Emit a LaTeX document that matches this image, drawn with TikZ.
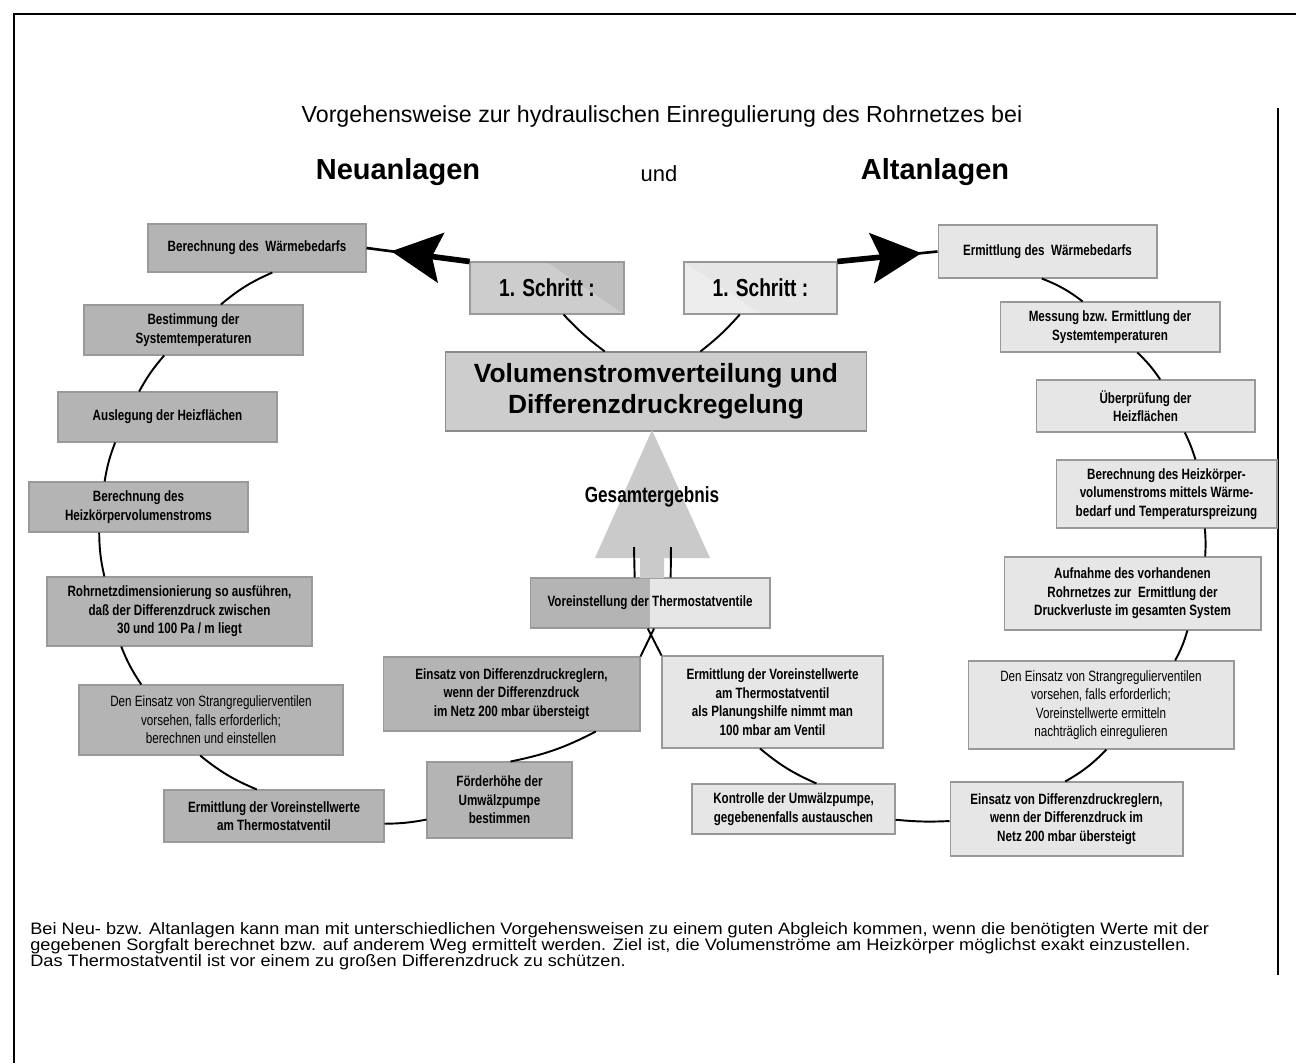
\documentclass[tikz,border=0pt]{standalone}
\usepackage{fontspec}
\setmainfont{Liberation Sans}
\newfontfamily\boxfont[FakeStretch=0.78]{Liberation Sans}
\newfontfamily\notefont[FakeStretch=1.1]{Liberation Sans}
\usepackage{xcolor}
\usetikzlibrary{arrows.meta,positioning}

\definecolor{neugray}{HTML}{B4B4B4}
\definecolor{altgray}{HTML}{E6E6E6}
\definecolor{midgray}{HTML}{CDCDCD}
\definecolor{pfeilgray}{HTML}{CACACA}

\newcommand{\engzeilen}{\lineskiplimit=-6pt\relax}

\tikzset{
    stepbase/.style={draw=black!40, line width=0.6pt, align=center, inner sep=1pt,
        font=\boxfont\bfseries\fontsize{8.5}{10.5}\selectfont},
    neubox/.style={stepbase, fill=neugray},
    altbox/.style={stepbase, fill=altgray},
    link/.style={line width=1.1pt},
    bigarrow/.style={line width=3.2pt, -{Stealth[length=1cm, width=1cm, inset=0.18cm]}}
}

\begin{document}
\begin{tikzpicture}[x=0.02cm, y=-0.02cm]
    \useasboundingbox (0,0) rectangle (1296,1063);
    \fill[white] (0,0) rectangle (1296,1063);

    % frame
    \draw[line width=1.2pt] (14,1063) -- (14,14) -- (1296,14);
    \draw[line width=1pt] (1278,108) -- (1278,975);

    % heading
    \node[font=\fontsize{13.2}{15}\selectfont] (title) at (662,116)
        {Vorgehensweise zur hydraulischen Einregulierung des Rohrnetzes bei};
    \node[font=\bfseries\fontsize{16.5}{20}\selectfont] (neu) at (398,172) {Neuanlagen};
    \node[font=\fontsize{12.5}{15}\selectfont] (und) at (659,174) {und};
    \node[font=\bfseries\fontsize{16.5}{20}\selectfont] (alt) at (935,172) {Altanlagen};

    % Neuanlagen
    \node[neubox, minimum width=4.36cm, minimum height=0.96cm] (waermeneu) at (257,248)
        {Berechnung des\ \ Wärmebedarfs};
    \node[neubox, minimum width=4.38cm, minimum height=1cm] (systemneu) at (193.5,330)
        {Bestimmung der\\Systemtemperaturen};
    \node[neubox, minimum width=4.38cm, minimum height=1cm] (heizneu) at (167.5,417)
        {Auslegung der Heizflächen};
    \node[neubox, minimum width=4.38cm, minimum height=1cm] (stromneu) at (138.5,507)
        {Berechnung des\\Heizkörpervolumenstroms};
    \node[neubox, minimum width=5.3cm, minimum height=1.38cm] (rohrneu) at (179.5,611.5)
        {Rohrnetzdimensionierung so ausführen,\\daß der Differenzdruck zwischen\\30 und 100 Pa / m liegt};
    \node[neubox, font=\boxfont\fontsize{8.5}{10.5}\selectfont, minimum width=5.28cm, minimum height=1.4cm] (strangneu) at (211,720)
        {Den Einsatz von Strangregulierventilen\\vorsehen, falls erforderlich;\\berechnen und einstellen};
    \node[neubox, minimum width=4.4cm, minimum height=1.04cm] (voreinneu) at (274,816)
        {Ermittlung der Voreinstellwerte\\am Thermostatventil};
    \node[neubox, minimum width=2.9cm, minimum height=1.52cm] (pumpeneu) at (499.5,800)
        {Förderhöhe der\\Umwälzpumpe\\bestimmen};
    \node[neubox, minimum width=5.14cm, minimum height=1.48cm] (dpneu) at (511.5,694)
        {Einsatz von Differenzdruckreglern,\\wenn der Differenzdruck\\im Netz 200 mbar übersteigt};

    % Mitte
    \node[stepbase, fill=midgray, draw=black!45, font=\bfseries\fontsize{15}{17.5}\selectfont,
        minimum width=8.44cm, minimum height=1.58cm] (mitte) at (656,391.5)
        {Volumenstromverteilung und\\Differenzdruckregelung};
    \node[stepbase, fill=midgray, font=\boxfont\bfseries\fontsize{14}{16}\selectfont,
        minimum width=3.08cm, minimum height=1.04cm,
        path picture={\fill[neugray!85] (path picture bounding box.north) -- (path picture bounding box.north east) -- (path picture bounding box.south east) -- cycle;}]
        (schrittneu) at (547,288) {1. Schritt :};
    \node[stepbase, fill=altgray, font=\boxfont\bfseries\fontsize{14}{16}\selectfont,
        minimum width=3.06cm, minimum height=1.04cm,
        path picture={\fill[black!7] (path picture bounding box.south west) -- (path picture bounding box.north west) -- (path picture bounding box.south) -- cycle;}]
        (schrittalt) at (760.5,288) {1. Schritt :};
    \node[stepbase, fill=altgray, minimum width=4.8cm, minimum height=1cm,
        path picture={\fill[neugray] (path picture bounding box.south west) rectangle (path picture bounding box.north);}]
        (voreinst) at (650,603) {Voreinstellung der Thermostatventile};

    % Altanlagen
    \node[altbox, minimum width=4.38cm, minimum height=1.06cm] (waermealt) at (1047.5,251.5)
        {Ermittlung des\ \ Wärmebedarfs};
    \node[altbox, minimum width=4.4cm, minimum height=1cm] (systemalt) at (1110,327)
        {Messung bzw. Ermittlung der\\Systemtemperaturen};
    \node[altbox, minimum width=4.38cm, minimum height=1.04cm] (heizalt) at (1145.5,406)
        {Überprüfung der\\Heizflächen};
    \node[altbox, minimum width=4.42cm, minimum height=1.36cm] (stromalt) at (1166.5,494)
        {Berechnung des Heizkörper-\\volumenstroms mittels Wärme-\\bedarf und Temperaturspreizung};
    \node[altbox, minimum width=5.14cm, minimum height=1.46cm] (rohralt) at (1132.5,593.5)
        {Aufnahme des vorhandenen\\Rohrnetzes zur\ \ Ermittlung der\\Druckverluste im gesamten System};
    \node[altbox, font=\boxfont\fontsize{8.5}{10.5}\selectfont, minimum width=5.32cm, minimum height=1.76cm] (strangalt) at (1101,705)
        {Den Einsatz von Strangregulierventilen\\vorsehen, falls erforderlich;\\Voreinstellwerte ermitteln\\nachträglich einregulieren};
    \node[altbox, minimum width=4.66cm, minimum height=1.48cm] (dpalt) at (1066.5,819)
        {Einsatz von Differenzdruckreglern,\\wenn der Differenzdruck im\\Netz 200 mbar übersteigt};
    \node[altbox, minimum width=4.06cm, minimum height=1cm] (pumpealt) at (793.5,809)
        {Kontrolle der Umwälzpumpe,\\gegebenenfalls austauschen};
    \node[altbox, minimum width=4.42cm, minimum height=1.84cm] (voreinalt) at (772.5,702)
        {Ermittlung der Voreinstellwerte\\am Thermostatventil\\als Planungshilfe nimmt man\\100 mbar am Ventil};

    % Gesamtergebnis
    \fill[pfeilgray] (652,430) -- (710,558) -- (664,558) -- (664,578)
        -- (640,578) -- (640,558) -- (595,558) -- cycle;
    \node[font=\boxfont\bfseries\fontsize{12.5}{15}\selectfont] (gesamt) at (652,497) {Gesamtergebnis};

    % Verbindungen links
    \draw[link] (waermeneu.-58) to[bend right=8] (systemneu.43);
    \draw[link] (systemneu.-139) to[bend right=6] (heizneu.138);
    \draw[link] (heizneu.206) to[bend right=6] (stromneu.143);
    \draw[link] (stromneu.213) to[bend right=6] (rohrneu.155);
    \draw[link] (rohrneu.211) to[bend right=6] (strangneu.153);
    \draw[link] (strangneu.-107) to[bend right=8] (voreinneu.123);
    \draw[link] (voreinneu.-4) to[bend right=5] (pumpeneu.195);
    \draw[link] (pumpeneu.74) to[bend right=8] (dpneu.-24);
    \draw[link] (dpneu.north east) -- (voreinst.-81);

    % Verbindungen rechts
    \draw[link] (waermealt.258) to[bend left=8] (systemalt.137);
    \draw[link] (systemalt.-43) to[bend left=6] (heizalt.61);
    \draw[link] (heizalt.-34) to[bend left=4] (stromalt.50);
    \draw[link] (stromalt.-42) to[bend left=4] (rohralt.27);
    \draw[link] (rohralt.-34) to[bend left=6] (strangalt.31);
    \draw[link] (strangalt.-83) to[bend left=8] (dpalt.92);
    \draw[link] (dpalt.181) to[bend left=4] (pumpealt.-6);
    \draw[link] (pumpealt.48) to[bend left=8] (voreinalt.-105);
    \draw[link] (voreinalt.north west) -- (voreinst.-95);

    % Mitte
    \coordinate (kreislinks) at (634,547);
    \coordinate (kreisrechts) at (671,547);
    \draw[link] (voreinst.121) -- (kreislinks);
    \draw[link] (voreinst.51) -- (kreisrechts);
    \draw[link] (schrittneu.-58) to[bend right=5] (mitte.142);
    \draw[link] (schrittalt.232) to[bend left=5] (mitte.42);

    % 1. Schritt Pfeile
    \draw[line width=1.5pt] (schrittneu.north west) -- (waermeneu.east);
    \draw[bigarrow, shorten >=0.5cm] (schrittneu.north west) -- (waermeneu.east);
    \draw[line width=1.5pt] (schrittalt.north east) -- (waermealt.west);
    \draw[bigarrow, shorten >=0.32cm] (schrittalt.north east) -- (waermealt.west);

    % Erläuterung
    \node[anchor=north west, align=left, inner sep=0pt,
        font={\notefont\fontsize{9.4}{9.2}\selectfont\engzeilen}] (erklaerung) at (30,922)
        {Bei Neu- bzw. Altanlagen kann man mit unterschiedlichen Vorgehensweisen zu einem guten Abgleich kommen, wenn die benötigten Werte mit der\\
         gegebenen Sorgfalt berechnet bzw. auf anderem Weg ermittelt werden. Ziel ist, die Volumenströme am Heizkörper möglichst exakt einzustellen.\\
         Das Thermostatventil ist vor einem zu großen Differenzdruck zu schützen.};
\end{tikzpicture}
\end{document}
